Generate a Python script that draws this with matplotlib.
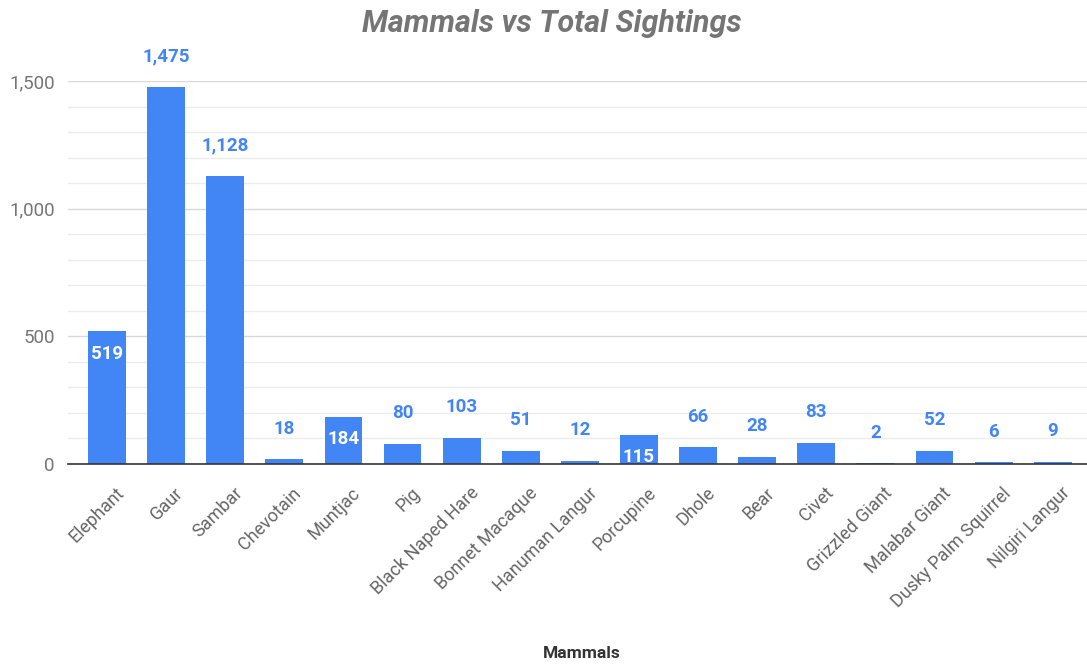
import matplotlib.pyplot as plt
from matplotlib.ticker import MultipleLocator, FuncFormatter
from matplotlib.transforms import ScaledTranslation

mammals = ["Elephant", "Gaur", "Sambar", "Chevotain", "Muntjac", "Pig",
           "Black Naped Hare", "Bonnet Macaque", "Hanuman Langur", "Porcupine",
           "Dhole", "Bear", "Civet", "Grizzled Giant", "Malabar Giant",
           "Dusky Palm Squirrel", "Nilgiri Langur"]
sightings = [519, 1475, 1128, 18, 184, 80, 103, 51, 12, 115, 66, 28, 83, 2, 52, 6, 9]
# labels that sit inside the bar in the reference
inside = ["Elephant", "Muntjac", "Porcupine"]

plt.rcParams['font.family'] = ['Roboto', 'DejaVu Sans']

blue = '#4285f4'
fig = plt.figure(figsize=(10.87, 6.66), dpi=100, facecolor='w')
ax = fig.add_axes([68 / 1087, 0.3033, 1 - 68 / 1087, 0.5751])

x = range(len(mammals))
bars = ax.bar(x, sightings, width=0.64, color=blue, zorder=3)

ax.set_xlim(-0.66, 16.58)
ax.set_ylim(0, 1500)
ax.yaxis.set_major_locator(MultipleLocator(500))
ax.yaxis.set_minor_locator(MultipleLocator(100))
ax.yaxis.set_major_formatter(FuncFormatter(lambda v, p: f"{int(v):,}"))
ax.grid(axis='y', which='major', color='#d9d9d9', lw=1, zorder=0)
ax.grid(axis='y', which='minor', color='#ececec', lw=1, zorder=0)
ax.tick_params(axis='both', which='both', length=0)
ax.tick_params(axis='y', labelsize=13.5, labelcolor='#757575', pad=9.5)
for s in ['top', 'right', 'left']:
    ax.spines[s].set_visible(False)
ax.spines['bottom'].set_color('#333333')
ax.spines['bottom'].set_linewidth(1.2)
ax.spines['bottom'].set_zorder(4)

ax.set_xticks(list(x))
ax.set_xticklabels(mammals, rotation=45, ha='right', rotation_mode='anchor',
                   fontsize=13, color='#666666')
ax.tick_params(axis='x', pad=8)
# nudge the slanted labels right/down like the reference
shift = ScaledTranslation(8 / 100, -9 / 100, fig.dpi_scale_trans)
for lbl in ax.get_xticklabels():
    lbl.set_transform(lbl.get_transform() + shift)

for name, b, v in zip(mammals, bars, sightings):
    cx = b.get_x() + b.get_width() / 2
    if name in inside:
        ax.annotate(f"{v:,}", (cx, v), xytext=(0, -16), textcoords='offset points',
                    ha='center', va='center', color='white', fontsize=13.5,
                    fontweight='bold', zorder=5)
    else:
        ax.annotate(f"{v:,}", (cx, v), xytext=(0, 22), textcoords='offset points',
                    ha='center', va='center', color=blue, fontsize=13.5,
                    fontweight='bold', annotation_clip=False, zorder=5)

fig.text(0.508, 0.965, "Mammals vs Total Sightings", ha='center', va='center',
         fontsize=22, fontweight='bold', fontstyle='italic', color='#757575')
fig.text(0.535, 0.019, "Mammals", ha='center', va='center',
         fontsize=12.5, fontweight='bold', color='#333333')

fig.savefig('out.png', dpi=100, facecolor='w')
